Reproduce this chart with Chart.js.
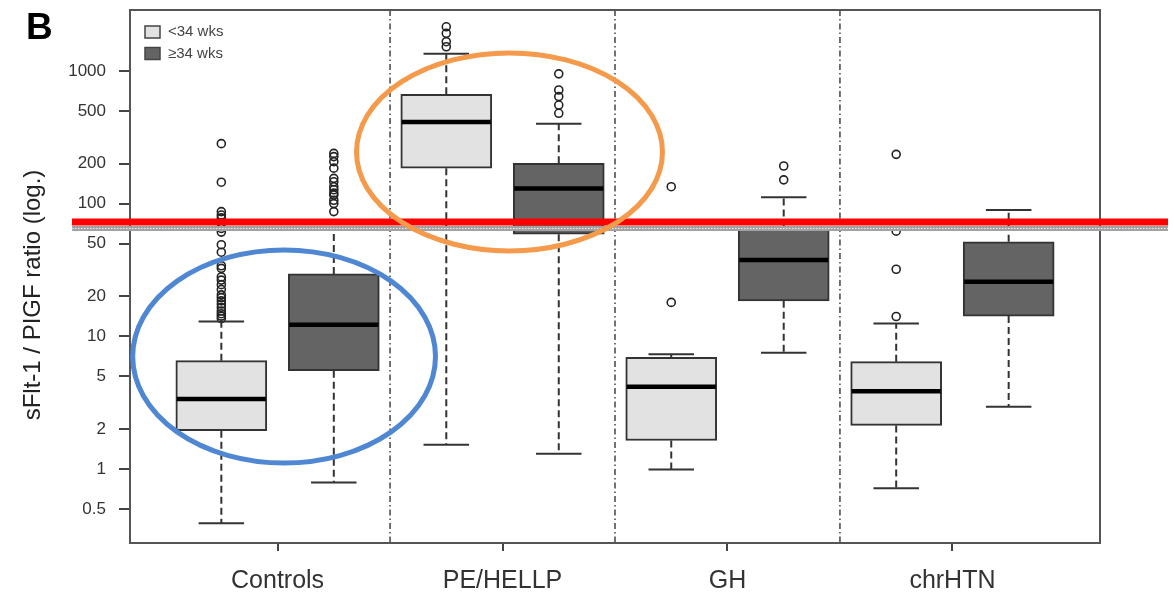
<!DOCTYPE html>
<html>
<head>
<meta charset="utf-8">
<script src="https://cdn.jsdelivr.net/npm/chart.js@4.4.0/dist/chart.umd.min.js"></script>
<style>
  html, body { margin: 0; padding: 0; background: #fff; }
  #wrap { width: 1174px; height: 592px; }
</style>
</head>
<body>
<div id="wrap"><canvas id="c" width="1174" height="592"></canvas></div>
<script>
// values
const categories = ['Controls', 'PE/HELLP', 'GH', 'chrHTN'];
const seriesLabels = ['<34 wks', '≥34 wks'];
const yTicks = [0.5, 1, 2, 5, 10, 20, 50, 100, 200, 500, 1000];

// <34 wks
const earlyLo  = [0.39, 1.52, 0.99, 0.715];
const earlyQ1  = [1.94, 184.6, 1.64, 2.13];
const earlyMed = [3.37, 412, 4.17, 3.85];
const earlyQ3  = [6.55, 666, 6.95, 6.44];
const earlyHi  = [12.9, 1348, 7.32, 12.5];
const earlyOut = [
  [283, 145, 87, 82, 78, 71, 65, 61, 49, 43, 34, 32.5, 28, 26.5, 24.5, 22.5, 20.5, 19.5, 18.5, 17.5, 16.5, 15.5, 14.8, 14.2, 13.6],
  [2150, 1920, 1660, 1520],
  [134, 18],
  [235, 62, 32, 14.1]
];

// >=34 wks
const lateLo  = [0.79, 1.30, 7.52, 2.95];
const lateQ1  = [5.5, 58.7, 18.5, 14.2];
const lateMed = [12.2, 130, 37.6, 25.8];
const lateQ3  = [29.5, 201, 66, 51.6];
const lateHi  = [65, 400, 111.5, 89.5];
const lateOut = [
  [239, 226, 207, 185, 155, 146, 134, 127, 120, 116, 106, 100, 87],
  [950, 718, 640, 553, 479],
  [192, 151],
  []
];

const cutoff = 72.7;   // red line
const seam = 64.9;     // grey band under it

const FONT = '"Liberation Sans", Arial, sans-serif';
const fills = ['#e2e2e2', '#646464'];
const shift = [-0.25, 0.25];

function line(ctx, x1, y1, x2, y2) {
  ctx.beginPath(); ctx.moveTo(x1, y1); ctx.lineTo(x2, y2); ctx.stroke();
}

const boxParts = {
  id: 'boxParts',
  beforeDatasetsDraw(chart) {
    const { ctx, chartArea: a, scales: { x } } = chart;
    ctx.save();
    ctx.strokeStyle = '#444';
    ctx.lineWidth = 1.5;
    ctx.setLineDash([6, 3, 1.5, 3]);
    for (let i = 0; i < categories.length - 1; i++) {
      const px = x.getPixelForValue(i + 0.5);
      line(ctx, px, a.top, px, a.bottom);
    }
    ctx.restore();
  },
  afterDatasetsDraw(chart) {
    const { ctx, scales: { y } } = chart;
    const stats = [
      [earlyLo, earlyQ1, earlyMed, earlyQ3, earlyHi],
      [lateLo, lateQ1, lateMed, lateQ3, lateHi]
    ];
    ctx.save();
    stats.forEach(([lo, q1, med, q3, hi], d) => {
      chart.getDatasetMeta(d).data.forEach((bar, i) => {
        const { x: cx, width: w } = bar.getProps(['x', 'width'], true);
        const py = v => y.getPixelForValue(v);
        ctx.strokeStyle = '#333';
        ctx.lineWidth = 2;
        ctx.setLineDash([7, 4]);
        line(ctx, cx, py(q3[i]), cx, py(hi[i]));
        line(ctx, cx, py(q1[i]), cx, py(lo[i]));
        ctx.setLineDash([]);
        line(ctx, cx - w / 4, py(hi[i]), cx + w / 4, py(hi[i]));
        line(ctx, cx - w / 4, py(lo[i]), cx + w / 4, py(lo[i]));
        ctx.strokeStyle = '#000';
        ctx.lineWidth = 4.5;
        line(ctx, cx - w / 2 + 1, py(med[i]), cx + w / 2 - 1, py(med[i]));
      });
    });
    ctx.restore();
  },
  afterDraw(chart) {
    const { ctx, chartArea: a, scales: { x, y } } = chart;
    ctx.save();
    // frame
    ctx.strokeStyle = '#555';
    ctx.lineWidth = 2;
    ctx.strokeRect(a.left, a.top, a.right - a.left, a.bottom - a.top);

    // legend
    seriesLabels.forEach((lab, d) => {
      const ly = a.top + 22 + d * 21.5;
      ctx.fillStyle = fills[d];
      ctx.fillRect(a.left + 15, ly - 6, 15, 12);
      ctx.strokeStyle = '#444';
      ctx.lineWidth = 1.5;
      ctx.strokeRect(a.left + 15, ly - 6, 15, 12);
      ctx.fillStyle = '#444';
      ctx.font = '15px ' + FONT;
      ctx.textBaseline = 'middle';
      ctx.textAlign = 'left';
      ctx.fillText(lab, a.left + 38, ly);
    });

    // panel letter
    ctx.fillStyle = '#000';
    ctx.font = 'bold 37px ' + FONT;
    ctx.textBaseline = 'alphabetic';
    ctx.fillText('B', 26, 39);

    // y title
    ctx.save();
    ctx.translate(40, 295);
    ctx.rotate(-Math.PI / 2);
    ctx.textAlign = 'center';
    ctx.fillStyle = '#222';
    ctx.font = '24px ' + FONT;
    ctx.fillText('sFlt-1 / PIGF ratio (log.)', 0, 0);
    ctx.restore();

    // seam band + red cut-off line
    const x0 = a.left - 58, x1 = a.right + 68;
    const sy = y.getPixelForValue(seam);
    ctx.fillStyle = '#a2a2a2';
    ctx.fillRect(x0, sy - 2.5, x1 - x0, 5);
    ctx.strokeStyle = '#eee';
    ctx.lineWidth = 1.2;
    ctx.setLineDash([1.5, 1.5]);
    line(ctx, x0, sy, x1, sy);
    ctx.setLineDash([]);
    ctx.strokeStyle = '#ff0000';
    ctx.lineWidth = 7;
    const ry = y.getPixelForValue(cutoff);
    line(ctx, x0, ry, x1, ry);

    // highlight ellipses
    [
      { g: 0.029, v: 7.04, rx: 0.673, dec: 0.803, color: '#4f87d3' },
      { g: 1.031, v: 245, rx: 0.68, dec: 0.746, color: '#f5994b' }
    ].forEach(e => {
      const cx = x.getPixelForValue(e.g);
      const cy = y.getPixelForValue(e.v);
      const rxp = x.getPixelForValue(e.g + e.rx) - cx;
      const ryp = cy - y.getPixelForValue(e.v * Math.pow(10, e.dec));
      ctx.strokeStyle = e.color;
      ctx.lineWidth = 5;
      ctx.beginPath();
      ctx.ellipse(cx, cy, rxp, ryp, 0, 0, Math.PI * 2);
      ctx.stroke();
    });
    ctx.restore();
  }
};

const boxData = (q1, q3, d) => categories.map((c, i) => ({ x: i + shift[d], y: [q1[i], q3[i]] }));
const outData = (out, d) => out.flatMap((vals, i) => vals.map(v => ({ x: i + shift[d], y: v })));

new Chart(document.getElementById('c'), {
  data: {
    datasets: [
      { type: 'bar', label: seriesLabels[0], data: boxData(earlyQ1, earlyQ3, 0), backgroundColor: fills[0],
        borderColor: '#333', borderWidth: 2, borderSkipped: false, barThickness: 91, grouped: false },
      { type: 'bar', label: seriesLabels[1], data: boxData(lateQ1, lateQ3, 1), backgroundColor: fills[1],
        borderColor: '#333', borderWidth: 2, borderSkipped: false, barThickness: 91, grouped: false },
      { type: 'scatter', data: outData(earlyOut, 0), pointRadius: 4, pointBorderWidth: 1.6,
        borderColor: '#222', backgroundColor: 'rgba(255,255,255,0)' },
      { type: 'scatter', data: outData(lateOut, 1), pointRadius: 4, pointBorderWidth: 1.6,
        borderColor: '#222', backgroundColor: 'rgba(255,255,255,0)' }
    ]
  },
  options: {
    responsive: false,
    animation: false,
    events: [],
    layout: { padding: { top: 10, right: 74, left: 0, bottom: 0 } },
    plugins: { legend: { display: false }, tooltip: { enabled: false } },
    scales: {
      x: {
        type: 'linear', min: -0.656, max: 3.656, offset: false,
        afterBuildTicks: s => { s.ticks = categories.map((c, i) => ({ value: i })); },
        afterFit: s => { s.height = 49; s.paddingLeft = 0; s.paddingRight = 0; },
        grid: { drawOnChartArea: false, offset: false, tickLength: 8, color: '#444', lineWidth: 2 },
        border: { display: false },
        ticks: { autoSkip: false, maxRotation: 0, padding: 15, color: '#333',
          font: { family: FONT, size: 25 }, callback: v => categories[v] }
      },
      y: {
        type: 'logarithmic', min: 0.2768, max: 2877,
        afterBuildTicks: s => { s.ticks = yTicks.map(v => ({ value: v })); },
        afterFit: s => { s.width = 130; s.paddingTop = 0; s.paddingBottom = 0; },
        grid: { drawOnChartArea: false, tickLength: 11, color: '#444', lineWidth: 2 },
        border: { display: false },
        ticks: { autoSkip: false, padding: 13, color: '#333',
          font: { family: FONT, size: 17 }, callback: v => String(v) }
      }
    }
  },
  plugins: [boxParts]
});
</script>
</body>
</html>
